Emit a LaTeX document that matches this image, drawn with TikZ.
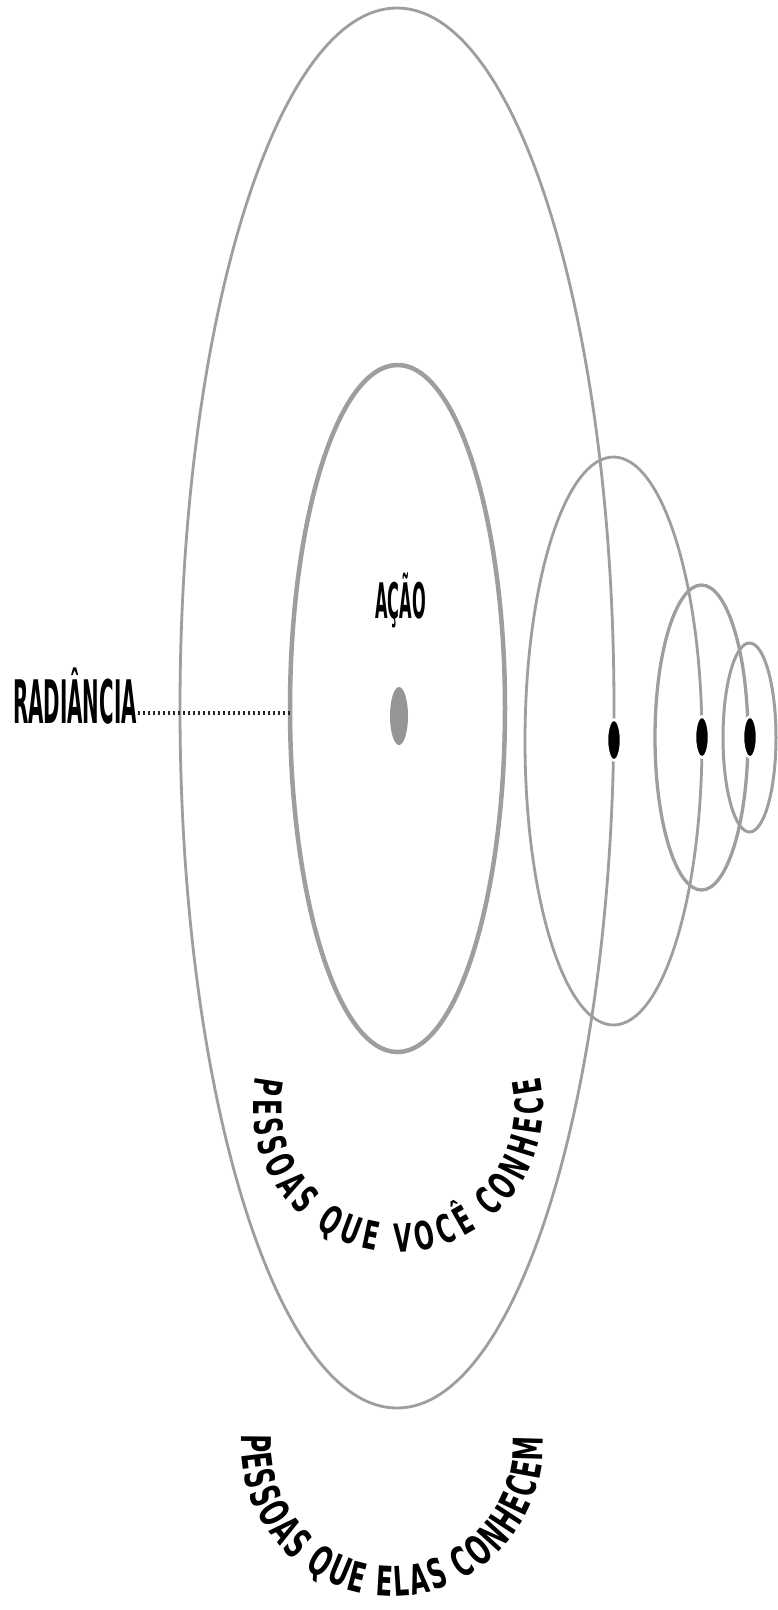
\documentclass[tikz,border=0pt]{standalone}
\usepackage{fontspec}
\usetikzlibrary{shapes.geometric,decorations.text}
\newfontfamily\labelfont{DejaVu Sans}[FakeStretch=0.33]
\newfontfamily\arcfont{DejaVu Sans}[FakeStretch=0.6]
\newcommand\arcstyleA{\arcfont\bfseries\fontsize{39}{41}\selectfont}
\newcommand\arcstyleB{\arcfont\bfseries\fontsize{41}{43}\selectfont}
\definecolor{ringgray}{RGB}{158,158,158}
\definecolor{dotgray}{RGB}{150,150,150}
\tikzset{
  ring/.style={ellipse, draw=ringgray, inner sep=0pt, outer sep=0pt, line width=2.8pt},
  person/.style={ellipse, fill=black, draw=white, line width=2.5pt, inner sep=0pt, minimum width=14pt, minimum height=41pt},
  lbl/.style={inner sep=0pt, anchor=base west, text=black},
  dotline/.style={draw=black!85, line width=4pt, dash pattern=on 2pt off 3pt}
}
\begin{document}
\begin{tikzpicture}[x=1pt,y=1pt]
\fill[white] (0,0) rectangle (778,-1610);
\useasboundingbox (0,0) rectangle (778,-1610);
% rings
\node[ring, minimum width=434pt, minimum height=1400pt] (outer) at (397,-708) {};
\node[ring, line width=4.5pt, minimum width=215pt, minimum height=687pt] (inner) at (397.5,-708.5) {};
\node[ring, minimum width=177pt, minimum height=568pt] (ringA) at (613.5,-741) {};
\node[ring, line width=3.3pt, minimum width=93pt, minimum height=305pt] (ringB) at (701.5,-737.5) {};
\node[ring, line width=3pt, minimum width=53pt, minimum height=189pt] (ringC) at (749.5,-737.5) {};
% centre dot
\node[ellipse, fill=dotgray, inner sep=0pt, minimum width=18pt, minimum height=58pt] (you) at (399,-716) {};
% people dots
\node[person] (p1) at (614,-740) {};
\node[person] (p2) at (702,-737) {};
\node[person] (p3) at (750,-737) {};
% labels
\node[lbl] (acao) at (375,-618) {\labelfont\bfseries\fontsize{49}{51}\selectfont AÇÃO};
\node[lbl] (rad) at (13,-723) {\labelfont\bfseries\fontsize{60}{62}\selectfont RADIÂNCIA};
\coordinate (dl) at (138,-713);
\draw[dotline] (dl) -- (dl -| inner.west);
% curved texts
\path[decorate, decoration={text along path, text align={fit to path},
  text={|\arcstyleA|PESSOAS QUE VOCÊ CONHECE}}]
  (256.2,-1076.9) arc[start angle=168, end angle=372, radius=145];
\path[decorate, decoration={text along path, text align={fit to path},
  text={|\arcstyleB|PESSOAS QUE ELAS CONHECEM}}]
  (241.4,-1434.5) arc[start angle=176, end angle=363, radius=151];
\end{tikzpicture}
\end{document}
